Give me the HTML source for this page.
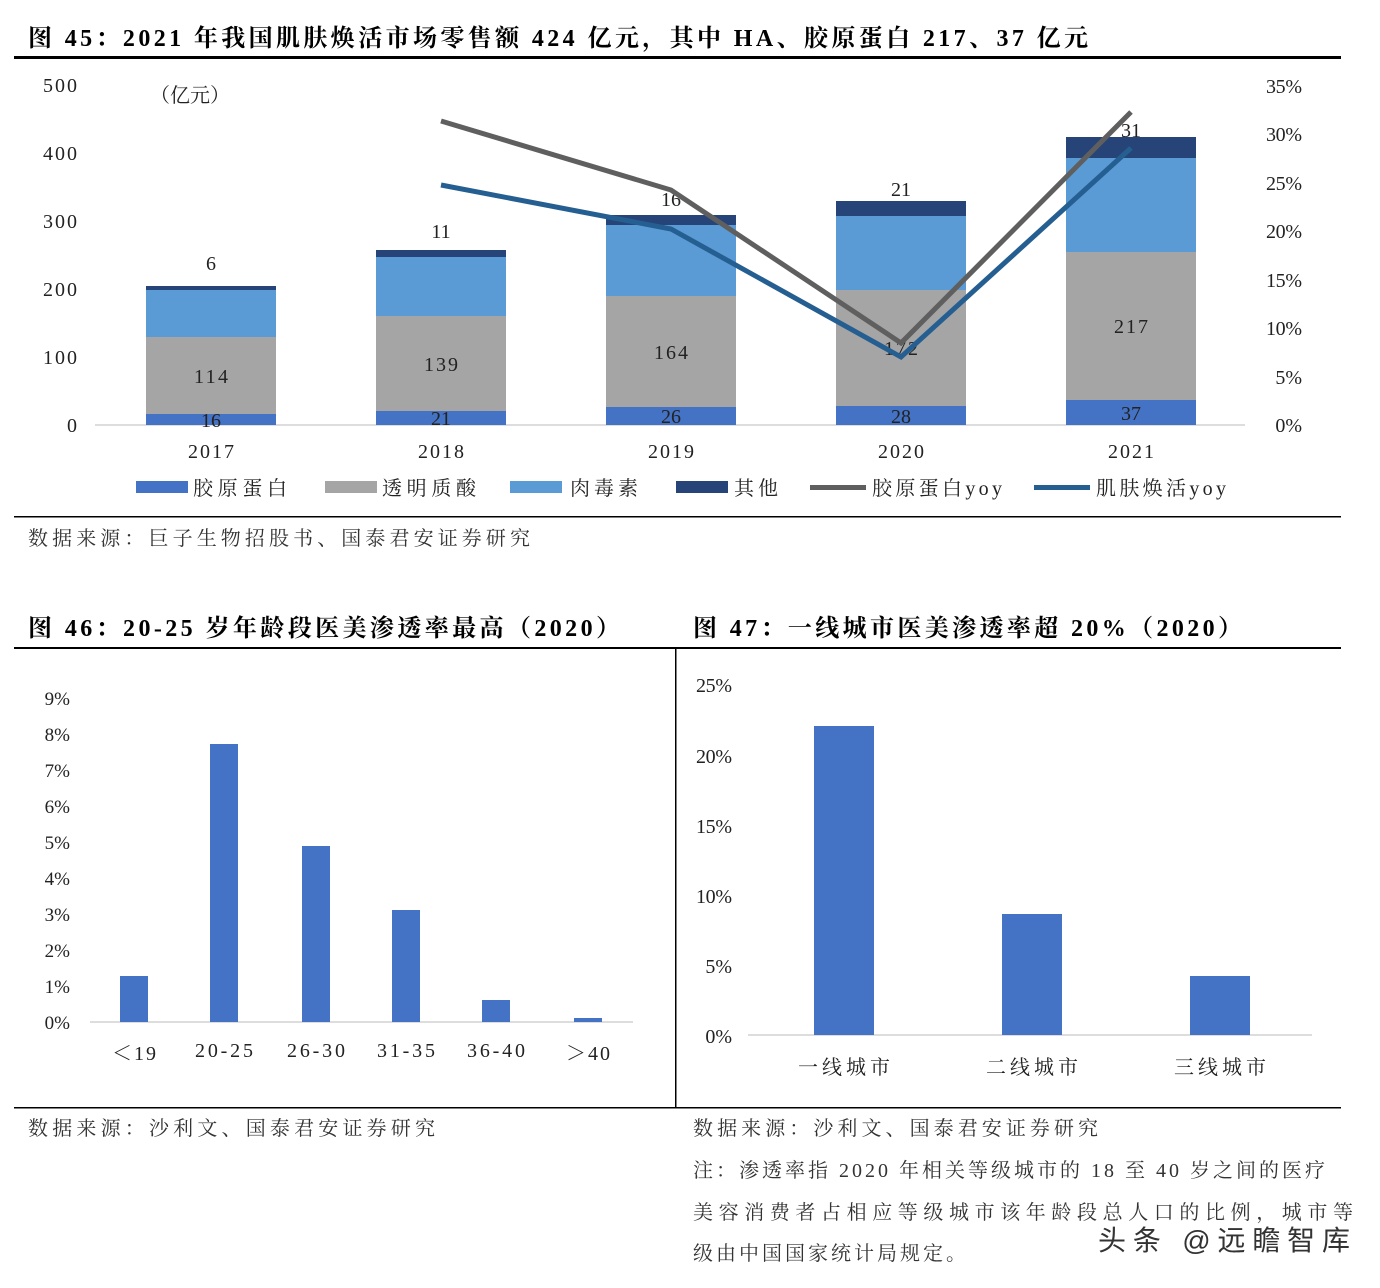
<!DOCTYPE html>
<html><head><meta charset="utf-8"><style>
html,body{margin:0;padding:0;background:#fff;}
svg{display:block;}
text{font-family:"Liberation Serif","Noto Serif CJK SC",serif;fill:#222;}
.t{font-weight:bold;font-size:24px;fill:#000;}
.a{font-size:20px;}
.s{font-size:20px;fill:#333;}
</style></head><body>
<svg width="1380" height="1288" viewBox="0 0 1380 1288" xmlns="http://www.w3.org/2000/svg">
<text class="t" x="28" y="46" textLength="1060" lengthAdjust="spacing">图 45：2021 年我国肌肤焕活市场零售额 424 亿元，其中 HA、胶原蛋白 217、37 亿元</text>
<rect x="14" y="56" width="1327" height="3" fill="#000"/>
<g class="a" text-anchor="end">
<text x="77" y="432">0</text><text x="77" y="364" textLength="34">100</text><text x="77" y="296" textLength="34">200</text>
<text x="77" y="228" textLength="34">300</text><text x="77" y="160" textLength="34">400</text><text x="77" y="92" textLength="34">500</text>
</g>
<text class="a" x="150" y="102" textLength="80" lengthAdjust="spacing">（亿元）</text>
<g class="a" text-anchor="end">
<text x="1302" y="432">0%</text><text x="1302" y="384">5%</text><text x="1302" y="335" textLength="36">10%</text>
<text x="1302" y="287" textLength="36">15%</text><text x="1302" y="238" textLength="36">20%</text><text x="1302" y="190" textLength="36">25%</text>
<text x="1302" y="141" textLength="36">30%</text><text x="1302" y="93" textLength="36">35%</text>
</g>
<line x1="95" y1="425" x2="1245" y2="425" stroke="#bbb" stroke-width="1"/>
<g>
<rect x="146" y="414" width="130" height="11" fill="#4472c4"/><rect x="146" y="337" width="130" height="77" fill="#a5a5a5"/><rect x="146" y="290" width="130" height="47" fill="#5b9bd5"/><rect x="146" y="286" width="130" height="4" fill="#264478"/>
<rect x="376" y="411" width="130" height="14" fill="#4472c4"/><rect x="376" y="316" width="130" height="95" fill="#a5a5a5"/><rect x="376" y="257" width="130" height="59" fill="#5b9bd5"/><rect x="376" y="250" width="130" height="7" fill="#264478"/>
<rect x="606" y="407" width="130" height="18" fill="#4472c4"/><rect x="606" y="296" width="130" height="111" fill="#a5a5a5"/><rect x="606" y="225" width="130" height="71" fill="#5b9bd5"/><rect x="606" y="215" width="130" height="10" fill="#264478"/>
<rect x="836" y="406" width="130" height="19" fill="#4472c4"/><rect x="836" y="290" width="130" height="116" fill="#a5a5a5"/><rect x="836" y="216" width="130" height="74" fill="#5b9bd5"/><rect x="836" y="201" width="130" height="15" fill="#264478"/>
<rect x="1066" y="400" width="130" height="25" fill="#4472c4"/><rect x="1066" y="252" width="130" height="148" fill="#a5a5a5"/><rect x="1066" y="158" width="130" height="94" fill="#5b9bd5"/><rect x="1066" y="137" width="130" height="21" fill="#264478"/>
</g>
<g class="a" text-anchor="middle">
<text x="211" y="427">16</text><text x="211" y="383" textLength="34">114</text><text x="211" y="270">6</text>
<text x="441" y="425">21</text><text x="441" y="371" textLength="34">139</text><text x="441" y="238">11</text>
<text x="671" y="423">26</text><text x="671" y="359" textLength="34">164</text><text x="671" y="206">16</text>
<text x="901" y="423">28</text><text x="901" y="355" textLength="34">172</text><text x="901" y="196">21</text>
<text x="1131" y="420">37</text><text x="1131" y="333" textLength="34">217</text><text x="1131" y="137">31</text>
<text x="211" y="458" textLength="46">2017</text><text x="441" y="458" textLength="46">2018</text><text x="671" y="458" textLength="46">2019</text><text x="901" y="458" textLength="46">2020</text><text x="1131" y="458" textLength="46">2021</text>
</g>
<polyline points="441,121 671,190 901,343 1131,112" fill="none" stroke="#5f5f5f" stroke-width="5"/>
<polyline points="441,185 671,229 901,357 1131,148" fill="none" stroke="#255e91" stroke-width="5"/>
<g class="a">
<rect x="136" y="481" width="52" height="12" fill="#4472c4"/><text x="193" y="495" textLength="94" lengthAdjust="spacing">胶原蛋白</text>
<rect x="325" y="481" width="52" height="12" fill="#a5a5a5"/><text x="382" y="495" textLength="94" lengthAdjust="spacing">透明质酸</text>
<rect x="510" y="481" width="52" height="12" fill="#5b9bd5"/><text x="570" y="495" textLength="68" lengthAdjust="spacing">肉毒素</text>
<rect x="676" y="481" width="52" height="12" fill="#264478"/><text x="734" y="495" textLength="44" lengthAdjust="spacing">其他</text>
<rect x="810" y="485" width="56" height="5" fill="#5f5f5f"/><text x="872" y="495" textLength="130" lengthAdjust="spacing">胶原蛋白yoy</text>
<rect x="1034" y="485" width="56" height="5" fill="#255e91"/><text x="1096" y="495" textLength="130" lengthAdjust="spacing">肌肤焕活yoy</text>
</g>
<rect x="14" y="516" width="1327" height="1.5" fill="#000"/>
<text class="s" x="28" y="545" textLength="502" lengthAdjust="spacing">数据来源：巨子生物招股书、国泰君安证券研究</text>

<text class="t" x="28" y="636" textLength="592" lengthAdjust="spacing">图 46：20-25 岁年龄段医美渗透率最高（2020）</text>
<text class="t" x="693" y="636" textLength="549" lengthAdjust="spacing">图 47：一线城市医美渗透率超 20%（2020）</text>
<rect x="14" y="647" width="1327" height="2" fill="#000"/>
<rect x="675" y="648" width="1.5" height="460" fill="#000"/>
<rect x="14" y="1107" width="1327" height="1.5" fill="#000"/>
<g class="a" text-anchor="end" style="font-size:19px">
<text x="70" y="1029">0%</text><text x="70" y="993">1%</text><text x="70" y="957">2%</text><text x="70" y="921">3%</text><text x="70" y="885">4%</text><text x="70" y="849">5%</text><text x="70" y="813">6%</text><text x="70" y="777">7%</text><text x="70" y="741">8%</text><text x="70" y="705">9%</text>
</g>
<line x1="90" y1="1022" x2="633" y2="1022" stroke="#bbb"/>
<rect x="120" y="976" width="28" height="46" fill="#4472c4"/>
<rect x="210" y="744" width="28" height="278" fill="#4472c4"/>
<rect x="302" y="846" width="28" height="176" fill="#4472c4"/>
<rect x="392" y="910" width="28" height="112" fill="#4472c4"/>
<rect x="482" y="1000" width="28" height="22" fill="#4472c4"/>
<rect x="574" y="1018" width="28" height="4" fill="#4472c4"/>
<g class="a" text-anchor="middle">
<text x="134" y="1060" textLength="44">＜19</text><text x="224" y="1057" textLength="58">20-25</text><text x="316" y="1057" textLength="58">26-30</text><text x="406" y="1057" textLength="58">31-35</text><text x="496" y="1057" textLength="58">36-40</text><text x="588" y="1060" textLength="44">＞40</text>
</g>
<g class="a" text-anchor="end">
<text x="732" y="1043">0%</text><text x="732" y="973">5%</text><text x="732" y="903" textLength="36">10%</text><text x="732" y="833" textLength="36">15%</text><text x="732" y="763" textLength="36">20%</text><text x="732" y="692" textLength="36">25%</text>
</g>
<line x1="748" y1="1035" x2="1312" y2="1035" stroke="#bbb"/>
<rect x="814" y="726" width="60" height="309" fill="#4472c4"/>
<rect x="1002" y="914" width="60" height="121" fill="#4472c4"/>
<rect x="1190" y="976" width="60" height="59" fill="#4472c4"/>
<g class="a" text-anchor="middle">
<text x="844" y="1074" textLength="92" lengthAdjust="spacing">一线城市</text><text x="1032" y="1074" textLength="92" lengthAdjust="spacing">二线城市</text><text x="1220" y="1074" textLength="92" lengthAdjust="spacing">三线城市</text>
</g>
<text class="s" x="28" y="1135" textLength="407" lengthAdjust="spacing">数据来源：沙利文、国泰君安证券研究</text>
<text class="s" x="693" y="1135" textLength="405" lengthAdjust="spacing">数据来源：沙利文、国泰君安证券研究</text>
<text class="s" x="693" y="1177" textLength="632" lengthAdjust="spacing">注：渗透率指 2020 年相关等级城市的 18 至 40 岁之间的医疗</text>
<text class="s" x="693" y="1219" textLength="660" lengthAdjust="spacing">美容消费者占相应等级城市该年龄段总人口的比例，城市等</text>
<text class="s" x="693" y="1260" textLength="273" lengthAdjust="spacing">级由中国国家统计局规定。</text>
<text x="1098" y="1250" textLength="252" lengthAdjust="spacing" style="font-family:'Liberation Sans','Noto Sans CJK SC',sans-serif;font-size:28px;fill:#333">头条 @远瞻智库</text>
</svg>
</body></html>
